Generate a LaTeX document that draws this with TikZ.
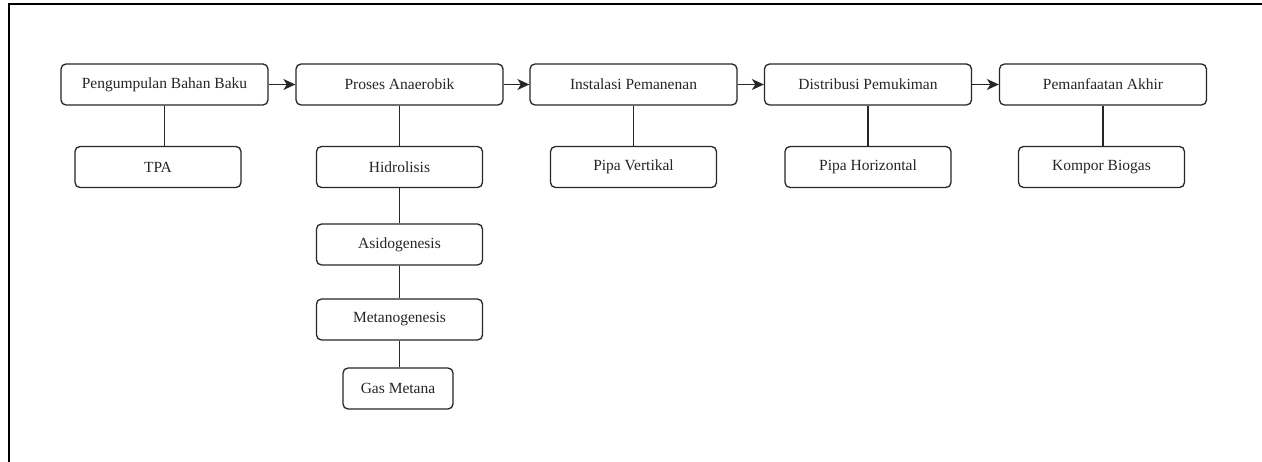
\documentclass[tikz,border=0pt]{standalone}
\usepackage{fontspec}
\setmainfont{Liberation Serif}
\usetikzlibrary{arrows.meta}
\tikzset{
  box/.style={draw=black!85, line width=1.3pt, rounded corners=5pt, fill=white,
    minimum height=41pt, inner sep=0pt, font=\fontsize{15.5}{18}\selectfont, text=black!85},
  mainbox/.style={box, minimum width=207pt},
  subbox/.style={box, minimum width=166pt},
  flow/.style={line width=1.3pt, draw=black!85, -{Stealth[length=12pt,width=11pt,inset=3.5pt]}},
  link/.style={line width=1.3pt, draw=black!85}
}
\begin{document}
\begin{tikzpicture}[x=1pt,y=-1pt]
\useasboundingbox (0,0) rectangle (1262,462);
\draw[line width=2.2pt] (9,462) -- (9,4) -- (1262,4);
\node[mainbox] (a) at (164.5,84.5) {Pengumpulan Bahan Baku};
\node[mainbox] (b) at (399.5,84.5) {Proses Anaerobik};
\node[mainbox] (c) at (633.5,84.5) {Instalasi Pemanenan};
\node[mainbox] (d) at (868,84.5) {Distribusi Pemukiman};
\node[mainbox] (e) at (1103,84.5) {Pemanfaatan Akhir};
\node[subbox] (a1) at (158,167) {TPA};
\node[subbox] (b1) at (399.5,167) {Hidrolisis};
\node[subbox] (b2) at (399.5,244.5) {Asidogenesis};
\node[subbox] (b3) at (399.5,319.5) {Metanogenesis};
\node[box, minimum width=110pt] (b4) at (398,388.5) {Gas Metana};
\node[subbox] (c1) at (633.5,167) {Pipa Vertikal};
\node[subbox] (d1) at (868,167) {Pipa Horizontal};
\node[subbox] (e1) at (1101.5,167) {Kompor Biogas};
\draw[flow] (a) -- (b);
\draw[flow] (b) -- (c);
\draw[flow] (c) -- (d);
\draw[flow] (d) -- (e);
\draw[link] (a.south) -- (a.south |- a1.north);
\draw[link] (b.south) -- (b1.north);
\draw[link] (b1.south) -- (b2.north);
\draw[link] (b2.south) -- (b3.north);
\draw[link] (b3.south) -- (b3.south |- b4.north);
\draw[link] (c.south) -- (c1.north);
\draw[link] (d.south) -- (d1.north);
\draw[link] (e.south) -- (e.south |- e1.north);
\end{tikzpicture}
\end{document}
